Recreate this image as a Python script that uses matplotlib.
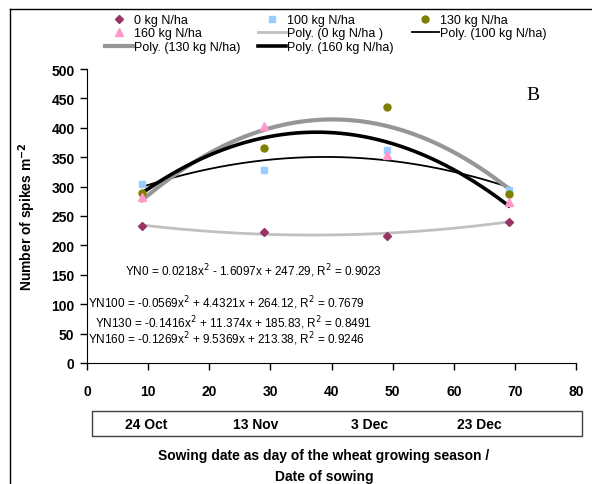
import numpy as np
import matplotlib
matplotlib.use('Agg')
import matplotlib.pyplot as plt
from matplotlib.lines import Line2D
from matplotlib.patches import Rectangle
from matplotlib.transforms import blended_transform_factory

plt.rcParams['font.family'] = ['Liberation Sans', 'DejaVu Sans']

# sowing day of the season
days = [9, 29, 49, 69]

# spikes per m2
n0 = [233, 223, 216, 240]
n100 = [305, 329, 363, 295]
n130 = [289, 365, 436, 287]
n160 = [282, 403, 354, 273]

# trendline coefficients (a, b, c) as printed on the chart
c0 = [0.0218, -1.6097, 247.29]
c100 = [-0.0569, 4.4321, 264.12]
c130 = [-0.1416, 11.374, 185.83]
c160 = [-0.1269, 9.5369, 213.38]

eq_text = ['YN0 = 0.0218x$^2$ - 1.6097x + 247.29, R$^2$ = 0.9023',
           'YN100 = -0.0569x$^2$ + 4.4321x + 264.12, R$^2$ = 0.7679',
           'YN130 = -0.1416x$^2$ + 11.374x + 185.83, R$^2$ = 0.8491',
           'YN160 = -0.1269x$^2$ + 9.5369x + 213.38, R$^2$ = 0.9246']
eq_pos = [(6.2, 158), (0.15, 104), (1.3, 70), (0.15, 42)]

date_labels = ['24 Oct', '13 Nov', '3 Dec', '23 Dec']
date_pos = [9.7, 27.6, 46.2, 64.2]

fig = plt.figure(figsize=(5.92, 4.85), dpi=100)
ax = fig.add_axes([87/592, 1-364/485, 489/592, 294/485])

xs = np.linspace(days[0], days[-1], 200)
p0, = ax.plot(xs, np.polyval(c0, xs), color='#c0c0c0', lw=2)
p100, = ax.plot(xs, np.polyval(c100, xs), color='black', lw=1.3)
p130, = ax.plot(xs, np.polyval(c130, xs), color='#969696', lw=3)
p160, = ax.plot(xs, np.polyval(c160, xs), color='black', lw=2.6)

m0, = ax.plot(days, n0, 'D', color='#993366', ms=4.5, ls='none')
m100, = ax.plot(days, n100, 's', color='#99ccff', ms=5, ls='none')
m130, = ax.plot(days, n130, 'o', color='#808000', ms=5, ls='none')
m160, = ax.plot(days, n160, '^', color='#ff99cc', ms=6, ls='none')

ax.set_xlim(0, 80)
ax.set_ylim(0, 500)
ax.set_xticks(range(0, 81, 10))
ax.set_yticks(range(0, 501, 50))
for s in ['top', 'right']:
    ax.spines[s].set_visible(False)
ax.tick_params(axis='both', direction='out', length=5, width=1, labelsize=10)
ax.tick_params(axis='x', pad=10)
ax.tick_params(axis='y', pad=4)
for lab in ax.get_xticklabels() + ax.get_yticklabels():
    lab.set_fontweight('bold')

for t, (x, y) in zip(eq_text, eq_pos):
    ax.text(x, y, t, fontsize=8.5, ha='left', va='center')

ax.text(533/592, 1-95/485, 'B', transform=fig.transFigure, fontsize=14,
        family='Liberation Serif', ha='center', va='center')

# date box under the x axis
fig.patches.append(Rectangle((92/592, 1-437/485), (582-92)/592, 25/485,
                             transform=fig.transFigure, fill=False,
                             edgecolor='#404040', lw=1))
tr = blended_transform_factory(ax.transData, fig.transFigure)
for lab, x in zip(date_labels, date_pos):
    ax.text(x, 1-425/485, lab, transform=tr, fontsize=10, fontweight='bold',
            ha='center', va='center')

fig.text(324/592, 1-456/485, 'Sowing date as day of the wheat growing season /',
         fontsize=10, fontweight='bold', ha='center', va='center')
fig.text(324/592, 1-477/485, 'Date of sowing', fontsize=10, fontweight='bold',
         ha='center', va='center')
fig.text(27/592, 1-217/485, 'Number of spikes m$^{\\mathbf{-2}}$', fontsize=10,
         fontweight='bold', rotation=90, ha='center', va='center')

# chart area border (left and top edges only visible)
fig.add_artist(Line2D([10/592, 10/592], [0, 1-10/485], color='black', lw=1,
                      transform=fig.transFigure))
fig.add_artist(Line2D([10/592, 1], [1-10/485, 1-10/485], color='black', lw=1,
                      transform=fig.transFigure))

handles = [m0, m160, p130, m100, p0, p160, m130, p100]
labels = ['0 kg N/ha', '160 kg N/ha', 'Poly. (130 kg N/ha)',
          '100 kg N/ha', 'Poly. (0 kg N/ha )', 'Poly. (160 kg N/ha)',
          '130 kg N/ha', 'Poly. (100 kg N/ha)']
fig.legend(handles, labels, ncol=3, loc='upper left',
           bbox_to_anchor=(105/592, 1-15/485), frameon=False, fontsize=9,
           borderpad=0, borderaxespad=0, labelspacing=0.12, handlelength=2.2,
           handletextpad=0.1, columnspacing=1.45)

fig.savefig('out.png', dpi=100)
